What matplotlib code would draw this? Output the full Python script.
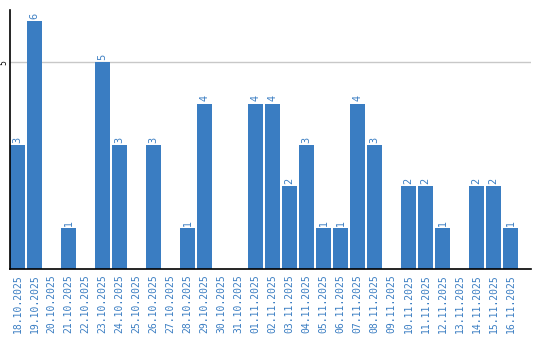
import matplotlib
matplotlib.use("Agg")
import matplotlib.pyplot as plt

dates = ["18.10.2025","19.10.2025","20.10.2025","21.10.2025","22.10.2025","23.10.2025",
         "24.10.2025","25.10.2025","26.10.2025","27.10.2025","28.10.2025","29.10.2025",
         "30.10.2025","31.10.2025","01.11.2025","02.11.2025","03.11.2025","04.11.2025",
         "05.11.2025","06.11.2025","07.11.2025","08.11.2025","09.11.2025","10.11.2025",
         "11.11.2025","12.11.2025","13.11.2025","14.11.2025","15.11.2025","16.11.2025"]
values = [3,6,0,1,0,5,3,0,3,0,1,4,0,0,4,4,2,3,1,1,4,3,0,2,2,1,0,2,2,1]

bar_color = "#3a7dc2"
label_color = "#3a7dc2"

fig = plt.figure(figsize=(5.4, 3.4), dpi=100)
ax = fig.add_axes([10/540, 71/340, 521/540, 259/340])
x = list(range(len(dates)))
bars = ax.bar(x, values, width=0.88, color=bar_color, zorder=2)
for xi, v in zip(x, values):
    if v > 0:
        ax.text(xi, v + 0.05, str(v), rotation=90, ha="center", va="bottom",
                fontsize=7, color=label_color, family="DejaVu Sans")
ax.set_xlim(-0.44, 30.2)
ax.set_ylim(0, 6.26)
ax.set_yticks([5])
ax.set_yticklabels(["5"], rotation=90, va="center", ha="right", fontsize=5.5)
ax.axhline(5, color="#c8c8c8", lw=1, zorder=1)
ax.set_xticks(x)
ax.set_xticklabels(dates, rotation=90, fontsize=7, color=label_color, family="DejaVu Sans Mono")
ax.tick_params(axis="x", length=0, pad=4)
ax.tick_params(axis="y", length=0, pad=1.5)
for s in ["top", "right"]:
    ax.spines[s].set_visible(False)
ax.spines["left"].set_linewidth(1.2)
ax.spines["bottom"].set_linewidth(1.2)
fig.savefig("out.png", dpi=100)
